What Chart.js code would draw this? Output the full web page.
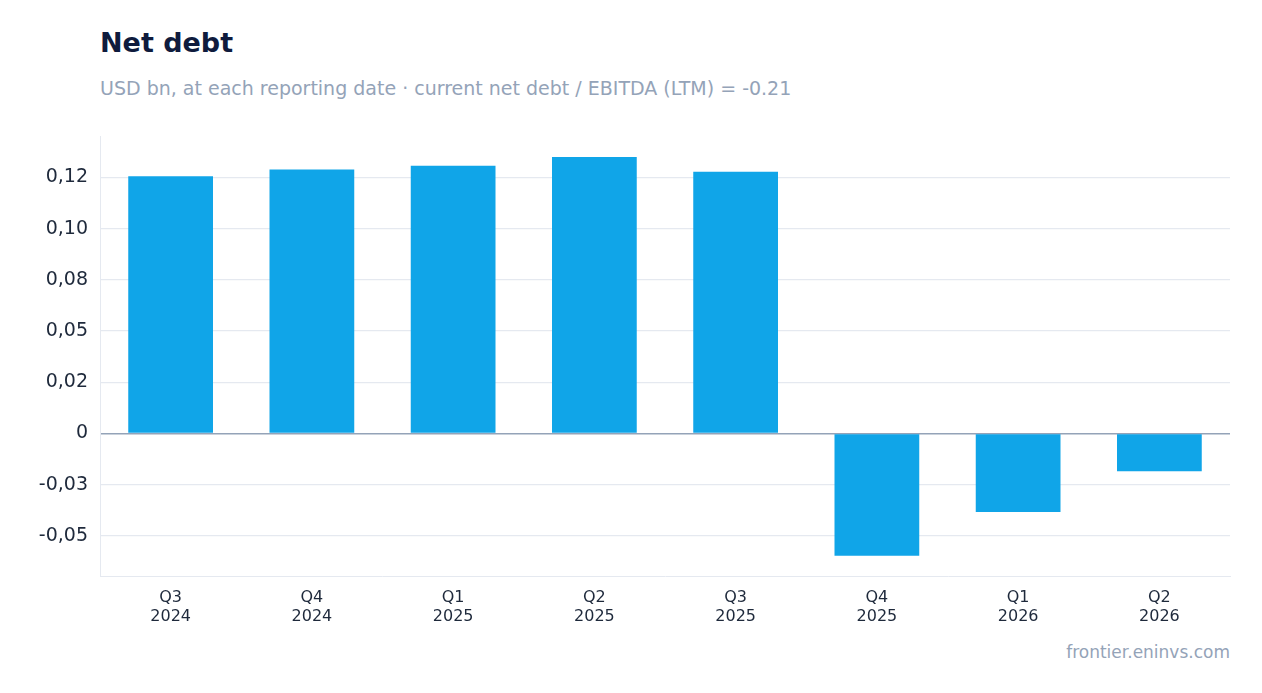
<!DOCTYPE html>
<html><head><meta charset="utf-8">
<script src="https://cdn.jsdelivr.net/npm/chart.js@4/dist/chart.umd.min.js"></script>
<style>
body{margin:0;width:1262px;height:693px;background:#fff;font-family:"DejaVu Sans",sans-serif;position:relative;overflow:hidden}
#t{position:absolute;left:100px;top:27px;font-size:27px;font-weight:bold;color:#0f1b3d}
#s{position:absolute;left:100px;top:77px;font-size:19px;color:#94a3b8}
#f{position:absolute;right:32px;top:642px;font-size:17px;color:#94a3b8}
#w{position:absolute;left:0;top:113px;width:1262px;height:540px}
</style></head><body>
<div id="t">Net debt</div>
<div id="s">USD bn, at each reporting date · current net debt / EBITDA (LTM) = -0.21</div>
<div id="f">frontier.eninvs.com</div>
<div id="w"><canvas id="c"></canvas></div>
<script>
const categories=[["Q3","2024"],["Q4","2024"],["Q1","2025"],["Q2","2025"],["Q3","2025"],["Q4","2025"],["Q1","2026"],["Q2","2026"]];
const netDebt=[0.1255,0.1288,0.1307,0.135,0.1278,-0.0597,-0.0384,-0.0185];
const tickValues=[0.125,0.1,0.075,0.05,0.025,0,-0.025,-0.05];
const tickLabels=["0,12","0,10","0,08","0,05","0,02","0","-0,03","-0,05"];
new Chart(document.getElementById('c'),{type:'bar',
data:{labels:categories,datasets:[{data:netDebt,backgroundColor:'#10a5e8',barPercentage:0.6,categoryPercentage:1}]},
options:{responsive:true,maintainAspectRatio:false,animation:false,
layout:{padding:{top:10,right:32,left:0,bottom:0}},
plugins:{legend:{display:false},tooltip:{enabled:false}},
scales:{
x:{grid:{display:false,drawTicks:true},border:{color:'#e5e9f0'},
 ticks:{color:'#1e293b',font:{size:16,family:'DejaVu Sans'},padding:4},
 afterFit:s=>{s.height=77;}},
y:{min:-0.0696,max:0.145,
 afterBuildTicks:s=>{s.ticks=tickValues.map(v=>({value:v}));},
 afterFit:s=>{s.width=100;},
 ticks:{color:'#1e293b',font:{size:19,family:'DejaVu Sans'},padding:12,
  callback:v=>{const i=tickValues.indexOf(v);return i>=0?tickLabels[i]:'';}},
 grid:{drawTicks:false,color:c=>c.tick&&c.tick.value===0?'#94a3b8':'#e5e9f0',lineWidth:c=>c.tick&&c.tick.value===0?1.5:1.2},
 border:{color:'#e5e9f0'}}}}});
</script></body></html>
